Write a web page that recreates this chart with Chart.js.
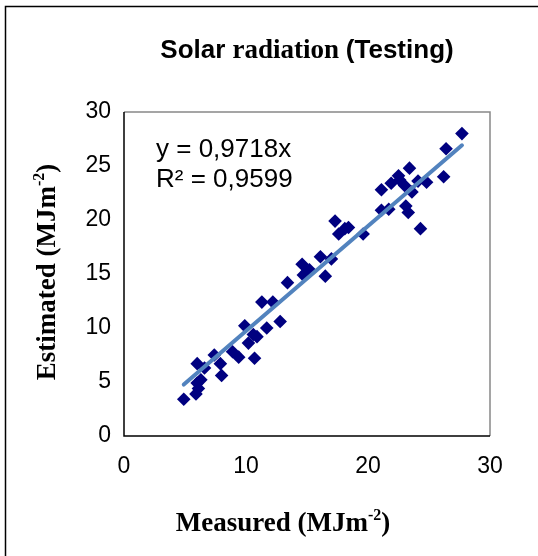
<!DOCTYPE html>
<html lang="en">
<head>
<meta charset="UTF-8">
<title>Solar radiation (Testing)</title>
<script src="https://cdn.jsdelivr.net/npm/chart.js@4.4.1/dist/chart.umd.min.js"></script>
<style>
    html, body { margin: 0; padding: 0; background: #fff; }
    #wrap { width: 538px; height: 556px; }
</style>
</head>
<body>
<div id="wrap"><canvas id="chart" width="538" height="556"></canvas></div>
<script>
    // measured vs estimated values
    const measured = [4.9, 5.9, 6.0, 6.1, 6.0, 6.3, 6.6, 7.4, 7.9, 8.0, 8.9, 9.4, 9.9, 10.2, 10.6, 10.7, 10.9,
        11.3, 11.7, 12.2, 12.8, 13.4, 14.6, 14.7, 15.2, 15.0, 16.1, 16.5, 17.0, 17.3, 17.6, 18.1, 18.4, 19.6,
        21.1, 21.1, 21.7, 21.9, 22.5, 22.6, 23.0, 23.1, 23.3, 23.4, 23.6, 24.1, 24.3, 24.8, 26.2, 26.4, 27.7];
    const estimated = [3.4, 3.9, 4.9, 4.4, 6.7, 5.2, 6.3, 7.5, 6.7, 5.6, 7.8, 7.3, 10.2, 8.6, 9.4, 7.2, 9.2,
        12.4, 10.0, 12.4, 10.6, 14.2, 15.9, 14.9, 15.4, 15.2, 16.6, 14.8, 16.4, 19.9, 18.7, 19.2, 19.3, 18.7,
        20.9, 22.8, 21.0, 23.4, 24.1, 23.7, 23.2, 21.3, 20.7, 24.8, 22.6, 23.6, 19.2, 23.5, 24.0, 26.6, 28.0];

    const slope = 0.9718;
    const trendX = [4.9, 27.7];
    const xTicks = [0, 10, 20, 30];
    const yTicks = [0, 5, 10, 15, 20, 25, 30];
    const equationLines = ['y = 0,9718x', 'R² = 0,9599'];

    const points = measured.map((m, i) => ({ x: m, y: estimated[i] }));
    const trend = trendX.map(x => ({ x: x, y: slope * x }));

    // draws text runs in mixed fonts, with optional superscript pieces
    function drawRuns(ctx, runs, cx, cy)
    {
        let total = 0;
        runs.forEach(r => { ctx.font = r.font; r.w = ctx.measureText(r.text).width; total += r.w; });
        let x = cx - total / 2;
        runs.forEach(r =>
        {
            ctx.font = r.font;
            ctx.fillText(r.text, x, cy + (r.dy || 0));
            x += r.w;
        });
    }

    const decor = {
        id: 'decor',
        beforeDraw(chart)
        {
            const ctx = chart.ctx;
            ctx.save();
            ctx.fillStyle = '#fff';
            ctx.fillRect(0, 0, chart.width, chart.height);
            ctx.strokeStyle = '#000';
            ctx.lineWidth = 1.5;
            ctx.beginPath();
            ctx.moveTo(5.5, 560);
            ctx.lineTo(5.5, 6.5);
            ctx.lineTo(540, 6.5);
            ctx.stroke();
            ctx.restore();
        },
        afterDraw(chart)
        {
            const ctx = chart.ctx;
            const a = chart.chartArea;
            ctx.save();
            // plot area frame: grey top/right, black axes
            ctx.lineWidth = 1.5;
            ctx.strokeStyle = '#888';
            ctx.beginPath();
            ctx.moveTo(a.left, a.top);
            ctx.lineTo(a.right, a.top);
            ctx.lineTo(a.right, a.bottom);
            ctx.stroke();
            ctx.strokeStyle = '#000';
            ctx.beginPath();
            ctx.moveTo(a.left, a.top);
            ctx.lineTo(a.left, a.bottom);
            ctx.lineTo(a.right, a.bottom);
            ctx.stroke();

            ctx.fillStyle = '#000';
            ctx.textBaseline = 'middle';
            ctx.textAlign = 'left';
            const sans = 'bold 26px "Liberation Sans", Arial, sans-serif';
            const serifT = 'bold 27px "Liberation Serif", "Times New Roman", serif';
            drawRuns(ctx, [
                { text: 'Solar ', font: sans },
                { text: 'radiation ', font: serifT },
                { text: '(Testing)', font: sans }
            ], 307, 51);

            const serif = 'bold 27px "Liberation Serif", "Times New Roman", serif';
            const sup = 'bold 16px "Liberation Serif", "Times New Roman", serif';
            drawRuns(ctx, [
                { text: 'Measured (MJm', font: serif },
                { text: '-2', font: sup, dy: -8 },
                { text: ')', font: serif }
            ], 283, 524);

            ctx.save();
            ctx.translate(48, 272);
            ctx.rotate(-Math.PI / 2);
            drawRuns(ctx, [
                { text: 'Estimated (MJm', font: serif },
                { text: '-2', font: sup, dy: -8 },
                { text: ')', font: serif }
            ], 0, 0);
            ctx.restore();

            ctx.font = '26px "Liberation Sans", Arial, sans-serif';
            ctx.textBaseline = 'alphabetic';
            equationLines.forEach((t, i) => ctx.fillText(t, 156, 157 + i * 30));
            ctx.restore();
        }
    };

    const tickFont = { family: '"Liberation Sans", Arial, sans-serif', size: 23 };

    new Chart(document.getElementById('chart'), {
        type: 'scatter',
        data: {
            datasets: [
                {
                    label: 'Estimated',
                    data: points,
                    pointStyle: 'rectRot',
                    pointRadius: 6.8,
                    backgroundColor: '#000080',
                    borderColor: '#000080',
                    borderWidth: 0,
                    order: 2
                },
                {
                    label: 'Trend',
                    data: trend,
                    type: 'line',
                    showLine: true,
                    borderColor: '#5283BE',
                    borderWidth: 4,
                    borderCapStyle: 'round',
                    pointRadius: 0,
                    fill: false,
                    order: 1
                }
            ]
        },
        options: {
            responsive: false,
            animation: false,
            layout: { padding: { left: 0, right: 48, top: 112, bottom: 0 } },
            plugins: {
                legend: { display: false },
                tooltip: { enabled: false }
            },
            scales: {
                x: {
                    type: 'linear',
                    min: 0,
                    max: 30,
                    afterBuildTicks: s => { s.ticks = xTicks.map(v => ({ value: v })); },
                    afterFit: s => { s.height = 120; },
                    grid: { display: false, drawOnChartArea: false, drawTicks: true, tickLength: 7, tickColor: '#000' },
                    border: { display: false },
                    ticks: { color: '#000', font: tickFont, padding: 10, maxRotation: 0 }
                },
                y: {
                    type: 'linear',
                    min: 0,
                    max: 30,
                    afterBuildTicks: s => { s.ticks = yTicks.map(v => ({ value: v })); },
                    afterFit: s => { s.width = 124; },
                    grid: { display: false, drawOnChartArea: false, drawTicks: true, tickLength: 7, tickColor: '#000' },
                    border: { display: false },
                    ticks: { color: '#000', font: tickFont, padding: 6 }
                }
            }
        },
        plugins: [decor]
    });
</script>
</body>
</html>
